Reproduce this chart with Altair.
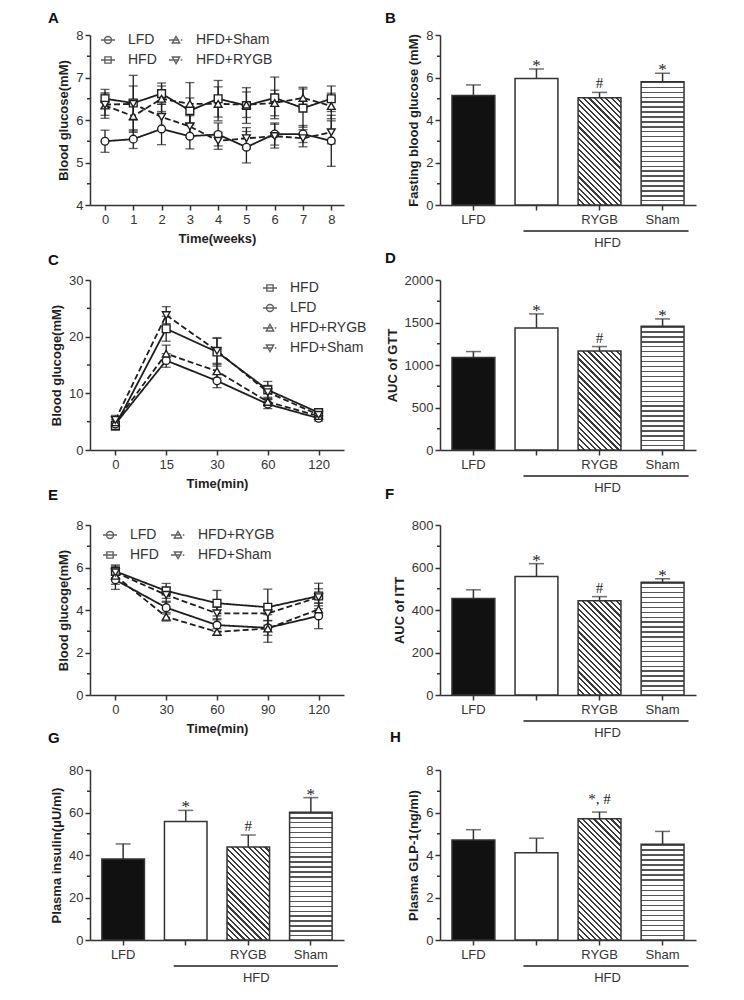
import math
import altair as alt
import pandas as pd

FONT = "Liberation Sans"
SERIF = "Liberation Serif"
INK = "#1e1e1e"
AXC = "#333333"

# ---------------- Panel A : blood glucose over 8 weeks ----------------
weeks = [0, 1, 2, 3, 4, 5, 6, 7, 8]
a_lfd = [5.50, 5.55, 5.79, 5.62, 5.66, 5.36, 5.67, 5.67, 5.51]
a_lfd_err = [0.26, 0.22, 0.37, 0.30, 0.27, 0.37, 0.26, 0.20, 0.60]
a_hfd = [6.50, 6.40, 6.62, 6.22, 6.50, 6.34, 6.52, 6.28, 6.50]
a_hfd_err = [0.22, 0.40, 0.25, 0.30, 0.43, 0.42, 0.49, 0.45, 0.30]
a_sham = [6.34, 6.09, 6.50, 6.38, 6.38, 6.36, 6.40, 6.52, 6.33]
a_sham_err = [0.30, 0.35, 0.30, 0.50, 0.40, 0.30, 0.30, 0.25, 0.30]
a_rygb = [6.36, 6.38, 6.07, 5.85, 5.51, 5.57, 5.62, 5.57, 5.71]
a_rygb_err = [0.25, 0.67, 0.30, 0.25, 0.20, 0.25, 0.28, 0.20, 0.27]

# ---------------- Panel C : GTT ----------------
gtt_times = ["0", "15", "30", "60", "120"]
c_hfd = [4.3, 21.4, 17.3, 10.6, 6.6]
c_hfd_err = [0.8, 2.2, 2.5, 1.5, 0.6]
c_lfd = [4.6, 15.8, 12.2, 8.1, 5.6]
c_lfd_err = [0.8, 1.2, 1.2, 0.8, 0.5]
c_rygb = [4.9, 17.0, 13.9, 8.5, 6.0]
c_rygb_err = [0.8, 1.5, 1.2, 0.8, 0.5]
c_sham = [5.3, 23.8, 17.5, 10.2, 6.2]
c_sham_err = [0.8, 1.5, 2.2, 1.2, 0.6]

# ---------------- Panel E : ITT ----------------
itt_times = ["0", "30", "60", "90", "120"]
e_lfd = [5.42, 4.11, 3.29, 3.16, 3.72]
e_lfd_err = [0.45, 0.30, 0.30, 0.35, 0.60]
e_hfd = [5.82, 4.90, 4.32, 4.13, 4.66]
e_hfd_err = [0.30, 0.35, 0.60, 0.85, 0.60]
e_rygb = [5.61, 3.68, 2.97, 3.13, 4.03]
e_rygb_err = [0.40, 0.20, 0.15, 0.65, 0.30]
e_sham = [5.77, 4.71, 3.84, 3.84, 4.60]
e_sham_err = [0.30, 0.35, 0.30, 0.35, 0.40]

# ---------------- Bar panels ----------------
groups = ["LFD", "HFD", "RYGB", "Sham"]
b_vals = [5.15, 5.95, 5.05, 5.80]
b_errs = [0.50, 0.45, 0.25, 0.40]
d_vals = [1087, 1435, 1166, 1455]
d_errs = [71, 166, 51, 87]
f_vals = [454, 558, 443, 531]
f_errs = [41, 60, 20, 16]
g_vals = [38.1, 55.8, 43.8, 60.1]
g_errs = [7.1, 5.2, 5.6, 6.9]
h_vals = [4.71, 4.11, 5.71, 4.51]
h_errs = [0.48, 0.68, 0.31, 0.60]
sig_marks = ["", "*", "#", "*"]
h_marks = ["", "", "*, #", ""]

W_L, W_R, H = 254, 256, 170

P_CIRCLE = "M-1,0H1M0.5,0A0.5,0.5,0,1,1,-0.5,0A0.5,0.5,0,1,1,0.5,0Z"
P_SQUARE = "M-1,0H1M-0.45,-0.45H0.45V0.45H-0.45Z"
P_TUP = "M-1,0H0.45M0.68,0H0.9M0,-0.52L0.52,0.42H-0.52Z"
P_TDOWN = "M-1,0H0.45M0.68,0H0.9M0,0.52L0.52,-0.42H-0.52Z"


def yaxis(values, title):
    return alt.Axis(values=values, title=title, format="d", grid=False,
                    domainColor=AXC, domainWidth=1.5, tickColor=AXC, tickWidth=1.5,
                    tickSize=5, labelColor=AXC, labelFont=FONT, labelFontSize=13,
                    labelPadding=2, titleFont=FONT, titleFontSize=13,
                    titleFontWeight="bold", titleColor=INK, titlePadding=5)


XAX = dict(grid=False, domainColor=AXC, domainWidth=1.5, tickColor=AXC, tickWidth=1.5,
           tickSize=5, labelColor=AXC, labelFont=FONT, labelFontSize=13, labelPadding=3,
           titleFont=FONT, titleFontSize=13, titleFontWeight="bold", titleColor=INK,
           titlePadding=6, labelAngle=0, labelOverlap=False)


def ptitle(letter, dx, offset):
    return alt.TitleParams(text=letter, anchor="start", frame="group", dx=dx,
                           offset=offset, fontSize=15, fontWeight="bold",
                           font=FONT, color="#111111")


def minor_layer(vals, ys):
    return alt.Chart(pd.DataFrame({"m": vals})).mark_rule(
        color=AXC, strokeWidth=1.5).encode(
        y=alt.Y("m:Q", scale=ys), x=alt.value(-3), x2=alt.value(0))


def long_df(xs, series):
    rows = []
    for name, vals, errs in series:
        for k, (x, v, e) in enumerate(zip(xs, vals, errs)):
            rows.append({"t": x, "k": k, "s": name, "v": v, "lo": v - e, "hi": v + e})
    return pd.DataFrame(rows)


def line_panel(df, xs, xquant, xdomain, xtitle, ydom, yvals, yminor, ytitle,
               order, shapes, dashes, leg_order, leg_paths, cols, lx, ly, title, width):
    ys = alt.Scale(domain=ydom, nice=False, zero=False)
    if xquant:
        xsc = alt.Scale(domain=xdomain, nice=False, zero=False)
        xax = alt.Axis(values=xs, tickCount=len(xs), format="d", title=xtitle, **XAX)
        xf = "t:Q"
    else:
        xsc = alt.Scale(type="point", padding=0.5, domain=xs)
        xax = alt.Axis(title=xtitle, **XAX)
        xf = "t:O"

    def X(ax=None):
        if ax is None:
            return alt.X(xf, scale=xsc)
        return alt.X(xf, scale=xsc, axis=ax)

    base = alt.Chart(df)
    pts = base.mark_point(filled=True, fill="white", stroke=INK, strokeWidth=1.4,
                          size=60, opacity=1).encode(
        x=X(xax), y=alt.Y("v:Q", scale=ys, axis=yaxis(yvals, ytitle)),
        shape=alt.Shape("s:N", scale=alt.Scale(domain=order, range=shapes), legend=None))
    err = base.mark_rule(color=INK, strokeWidth=1.3).encode(
        x=X(), y=alt.Y("lo:Q", scale=ys), y2="hi:Q")
    caps = [base.mark_tick(color=INK, thickness=1.3, size=9, orient="horizontal").encode(
        x=X(), y=alt.Y(f"{c}:Q", scale=ys)) for c in ("lo", "hi")]
    line = base.mark_line(color=INK, strokeWidth=1.8).encode(
        x=X(), y=alt.Y("v:Q", scale=ys), order="k:Q",
        strokeDash=alt.StrokeDash("s:N", scale=alt.Scale(domain=order, range=dashes), legend=None))
    leg = base.transform_filter("false").mark_point(
        filled=False, color=INK, strokeWidth=1.4).encode(
        shape=alt.Shape("s:N", scale=alt.Scale(domain=leg_order, range=leg_paths),
                        legend=alt.Legend(orient="none", legendX=lx, legendY=ly, columns=cols,
                                          title=None, labelFont=FONT, labelFontSize=14,
                                          labelColor=AXC, symbolSize=196,
                                          symbolStrokeWidth=1.4, symbolStrokeColor=INK,
                                          symbolFillColor="transparent", labelOffset=12,
                                          rowPadding=5, columnPadding=9, padding=0,
                                          labelLimit=200)))
    # layer with axes first so that its axis settings are used
    return alt.layer(pts.mark_point(opacity=0, size=1), minor_layer(yminor, ys), err, *caps,
                     line, pts, leg).resolve_scale(
        shape="independent").properties(width=width, height=H, title=title)


def grad_h(hpx, period=5.0, frac=0.28, col="#555555"):
    n = max(1, int(round(hpx / period)))
    stops = []
    for i in range(n):
        a, b, e = i / n, (i + frac) / n, (i + 1) / n
        stops += [alt.GradientStop(color=col, offset=a), alt.GradientStop(color=col, offset=b),
                  alt.GradientStop(color="white", offset=b), alt.GradientStop(color="white", offset=e)]
    return alt.LinearGradient(gradient="linear", stops=stops, x1=0, y1=0, x2=0, y2=1)


def grad_d(wpx, hpx, period=4.0, frac=0.38, col="#3a3a3a"):
    c = (wpx + hpx) / (wpx ** 2 + hpx ** 2)
    L = (wpx + hpx) / math.sqrt(2)
    n = max(1, int(round(L / period)))
    stops = []
    for i in range(n):
        a, b, e = i / n, (i + frac) / n, (i + 1) / n
        stops += [alt.GradientStop(color=col, offset=a), alt.GradientStop(color=col, offset=b),
                  alt.GradientStop(color="white", offset=b), alt.GradientStop(color="white", offset=e)]
    return alt.LinearGradient(gradient="linear", stops=stops, x1=0, y1=1,
                              x2=c * wpx, y2=1 - c * hpx)


def bar_panel(vals, errs, marks, ymax, yvals, yminor, ytitle, title, width, bk,
              star_dy=2, hash_dy=-4):
    df = pd.DataFrame({"g": groups, "v": vals,
                       "u": [v + e for v, e in zip(vals, errs)], "m": marks})
    pin, pout = 0.32, 0.19
    xsc = alt.Scale(domain=groups, paddingInner=pin, paddingOuter=pout)
    ys = alt.Scale(domain=[0, ymax], nice=False)
    step = width / (4 - pin + 2 * pout)
    bw = step * (1 - pin)

    def hpx(v):
        return v / ymax * H

    xax = alt.Axis(title=None, labelExpr="datum.value == 'HFD' ? '' : datum.value", **XAX)

    def X(ax=None):
        if ax is None:
            return alt.X("g:N", scale=xsc)
        return alt.X("g:N", scale=xsc, axis=ax)

    def Y(f="v", ax=None):
        if ax is None:
            return alt.Y(f"{f}:Q", scale=ys)
        return alt.Y(f"{f}:Q", scale=ys, axis=ax)

    base = alt.Chart(df)
    solid = base.transform_filter(
        alt.FieldOneOfPredicate(field="g", oneOf=["LFD", "HFD"])).mark_bar(
        stroke=AXC, strokeWidth=1.5).encode(
        x=X(xax), y=Y("v", yaxis(yvals, ytitle)),
        fill=alt.condition(alt.datum.g == "LFD", alt.value("#111111"), alt.value("white")))
    rygb = base.transform_filter(alt.datum.g == "RYGB").mark_bar(
        stroke=AXC, strokeWidth=1.5, fill=grad_d(bw, hpx(vals[2]))).encode(x=X(), y=Y())
    sham = base.transform_filter(alt.datum.g == "Sham").mark_bar(
        stroke=AXC, strokeWidth=1.5, fill=grad_h(hpx(vals[3]))).encode(x=X(), y=Y())
    err = base.mark_rule(color=AXC, strokeWidth=1.5).encode(x=X(), y=Y(), y2="u:Q")
    cap = base.mark_tick(color=AXC, thickness=1.5, size=15, orient="horizontal").encode(
        x=X(), y=Y("u"))
    stars = base.transform_filter(alt.datum.m == "*").mark_text(
        font=SERIF, fontSize=17, color=INK, baseline="alphabetic", dy=star_dy).encode(
        x=X(), y=Y("u"), text="m:N")
    hashes = base.transform_filter("indexof(datum.m, '#') >= 0").mark_text(
        font=SERIF, fontSize=15, color=INK, baseline="alphabetic", dy=hash_dy).encode(
        x=X(), y=Y("u"), text="m:N")
    bracket = alt.Chart(pd.DataFrame({"a": ["HFD"], "b": ["Sham"]})).mark_rule(
        color=INK, strokeWidth=1.5, xOffset=bk[0], x2Offset=bk[1]).encode(
        x=alt.X("a:N", scale=xsc), x2="b:N", y=alt.value(H + 26))
    hfd_txt = alt.Chart(pd.DataFrame({"a": ["RYGB"], "t": ["HFD"]})).mark_text(
        font=FONT, fontSize=13, color=AXC, dx=8, baseline="middle").encode(
        x=alt.X("a:N", scale=xsc), y=alt.value(H + 38), text="t:N")
    return alt.layer(solid, minor_layer(yminor, ys), rygb, sham, err, cap, stars, hashes,
                     bracket, hfd_txt).properties(width=width, height=H, title=title)


# ---------------- build panels ----------------
dfA = long_df(weeks, [("LFD", a_lfd, a_lfd_err), ("HFD", a_hfd, a_hfd_err),
                      ("HFD+Sham", a_sham, a_sham_err), ("HFD+RYGB", a_rygb, a_rygb_err)])
pA = line_panel(dfA, weeks, True, [-0.53, 8.45], "Time(weeks)", [4, 8], [4, 5, 6, 7, 8],
                [4.5, 5.5, 6.5, 7.5], "Blood glucose(mM)",
                ["LFD", "HFD", "HFD+Sham", "HFD+RYGB"],
                ["circle", "square", "triangle-up", "triangle-down"],
                [[1, 0], [1, 0], [6, 3], [6, 3]],
                ["LFD", "HFD", "HFD+Sham", "HFD+RYGB"], [P_CIRCLE, P_SQUARE, P_TUP, P_TDOWN],
                2, 10, -3, ptitle("A", -42, 3), W_L)

dfC = long_df(gtt_times, [("HFD", c_hfd, c_hfd_err), ("LFD", c_lfd, c_lfd_err),
                          ("HFD+RYGB", c_rygb, c_rygb_err), ("HFD+Sham", c_sham, c_sham_err)])
pC = line_panel(dfC, gtt_times, False, None, "Time(min)", [0, 30], [0, 10, 20, 30],
                [5, 15, 25], "Blood glucoge(mM)",
                ["HFD", "LFD", "HFD+RYGB", "HFD+Sham"],
                ["square", "circle", "triangle-up", "triangle-down"],
                [[1, 0], [1, 0], [6, 3], [6, 3]],
                ["HFD", "LFD", "HFD+RYGB", "HFD+Sham"], [P_SQUARE, P_CIRCLE, P_TUP, P_TDOWN],
                1, 172, 0, ptitle("C", -42, 6), W_L)

dfE = long_df(itt_times, [("LFD", e_lfd, e_lfd_err), ("HFD", e_hfd, e_hfd_err),
                          ("HFD+RYGB", e_rygb, e_rygb_err), ("HFD+Sham", e_sham, e_sham_err)])
pE = line_panel(dfE, itt_times, False, None, "Time(min)", [0, 8], [0, 2, 4, 6, 8],
                [1, 3, 5, 7], "Blood glucoge(mM)",
                ["LFD", "HFD", "HFD+RYGB", "HFD+Sham"],
                ["circle", "square", "triangle-up", "triangle-down"],
                [[1, 0], [1, 0], [6, 3], [6, 3]],
                ["LFD", "HFD", "HFD+RYGB", "HFD+Sham"], [P_CIRCLE, P_SQUARE, P_TUP, P_TDOWN],
                2, 12, 2, ptitle("E", -42, 16), W_L)

pB = bar_panel(b_vals, b_errs, sig_marks, 8, [0, 2, 4, 6, 8], [1, 3, 5, 7],
               "Fasting blood glucose (mM)", ptitle("B", -55, 3), W_R, (-13, 26))
pD = bar_panel(d_vals, d_errs, sig_marks, 2000, [0, 500, 1000, 1500, 2000],
               [250, 750, 1250, 1750], "AUC of GTT", ptitle("D", -55, 8), W_R, (-13, 26))
pF = bar_panel(f_vals, f_errs, sig_marks, 800, [0, 200, 400, 600, 800],
               [100, 300, 500, 700], "AUC of ITT", ptitle("F", -55, 17), W_R, (-13, 26))
pG = bar_panel(g_vals, g_errs, sig_marks, 80, [0, 20, 40, 60, 80], [10, 30, 50, 70],
               "Plasma insulin(μU/ml)", ptitle("G", -42, 18), W_L, (-12, 27))
pH = bar_panel(h_vals, h_errs, h_marks, 8, [0, 2, 4, 6, 8], [1, 3, 5, 7],
               "Plasma GLP-1(ng/ml)", ptitle("H", -50, 19), W_R, (-13, 26), hash_dy=-8)

chart = alt.concat(pA, pB, pC, pD, pE, pF, pG, pH, columns=2,
                   spacing=alt.RowColnumber(row=75, column=96), bounds="flush").properties(
    padding={"left": 40, "top": 3, "right": 5, "bottom": 5}, background="white"
).configure_view(stroke=None)

chart.save("out.html", embed_options={"renderer": "svg", "actions": False})
